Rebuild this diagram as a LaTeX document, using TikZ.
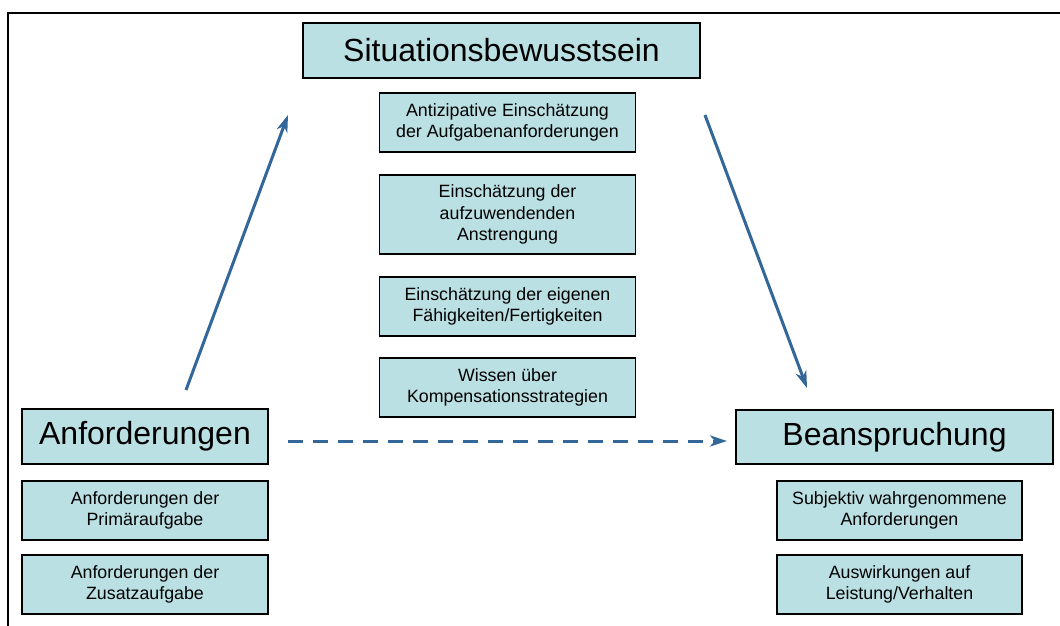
\documentclass[tikz,border=0pt]{standalone}
\usepackage{fontspec}
\setmainfont{Liberation Sans}
\usetikzlibrary{arrows.meta}
\definecolor{boxfill}{RGB}{187,224,227}
\definecolor{flowblue}{RGB}{51,102,153}
\begin{document}
\begin{tikzpicture}[x=1pt,y=-1pt,
  box/.style={draw=black,line width=1.8pt,fill=boxfill,rectangle,inner sep=0pt,
    align=center,text=black},
  bigbox/.style={box,font=\fontsize{32}{38}\selectfont},
  smallbox/.style={box,font=\fontsize{17.8}{21.5}\selectfont,minimum width=256pt,minimum height=59pt},
  flow/.style={draw=flowblue,line width=3pt,-{Stealth[length=17pt,width=11pt,inset=5pt]}}
]
\useasboundingbox (0,0) rectangle (1060,626);
% outer frame (only top and left edges lie inside the page)
\draw[line width=2.5pt] (8,640) -- (8,13) -- (1075,13);

% situation awareness column
\node[bigbox,minimum width=397pt,minimum height=55pt] (sa) at (501.5,50.5) {Situationsbewusstsein};
\node[smallbox] (sa1) at (507.5,122.5) {Antizipative Einschätzung\\der Aufgabenanforderungen};
\node[smallbox,minimum height=79pt] (sa2) at (507.5,214.5) {Einschätzung der\\aufzuwendenden\\Anstrengung};
\node[smallbox] (sa3) at (507.5,306.5) {Einschätzung der eigenen\\Fähigkeiten/Fertigkeiten};
\node[smallbox] (sa4) at (507.5,387.5) {Wissen über\\Kompensationsstrategien};

% demands column
\node[bigbox,minimum width=246pt,minimum height=55pt] (an) at (145,436.5) {Anforderungen};
\node[smallbox,minimum width=246pt] (an1) at (145,510.5) {Anforderungen der\\Primäraufgabe};
\node[smallbox,minimum width=246pt] (an2) at (145,584.5) {Anforderungen der\\Zusatzaufgabe};

% workload column
\node[bigbox,minimum width=317pt,minimum height=54pt] (be) at (894.5,437) {Beanspruchung};
\node[smallbox,minimum width=245pt] (be1) at (899.5,510.5) {Subjektiv wahrgenommene\\Anforderungen};
\node[smallbox,minimum width=245pt] (be2) at (899.5,584.5) {Auswirkungen auf\\Leistung/Verhalten};

% arrow end points
\coordinate (anOut) at (186,390);
\coordinate (saIn) at (288,115);
\coordinate (saOut) at (705,115);
\coordinate (beIn) at (807,388);
\coordinate (dashStart) at (288,441);
\coordinate (dashEnd) at (727,441);

\draw[flow] (anOut) -- (saIn);
\draw[flow] (saOut) -- (beIn);
\draw[flow,dash pattern=on 15pt off 10pt] (dashStart) -- (dashEnd);
\end{tikzpicture}
\end{document}
